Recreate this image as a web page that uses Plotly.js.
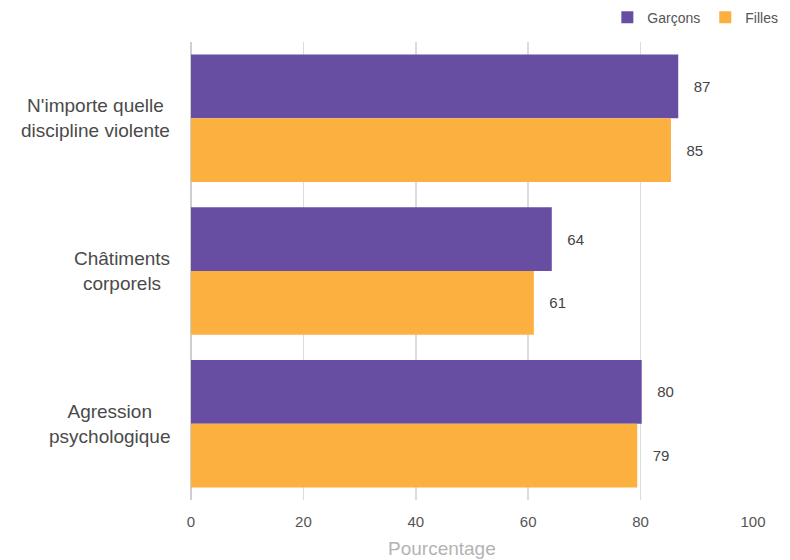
<!DOCTYPE html>
<html><head><meta charset="utf-8">
<script src="https://cdn.plot.ly/plotly-3.0.1.min.js"></script>
<style>body{margin:0}#c{width:790px;height:560px}</style>
</head><body><div id="c"></div>
<script>
const categories = ["N'importe quelle<br>discipline violente", "Châtiments<br>corporels", "Agression<br>psychologique"];
const garcons = [86.7, 64.2, 80.2];
const filles = [85.4, 61.0, 79.4];
const xTicks = [0, 20, 40, 60, 80, 100];
const xTitle = 'Pourcentage';

const FF = 'Liberation Sans, Arial, sans-serif';
const txtFont = {family: FF, size: 15, color: '#444'};
const traces = [
  {type: 'bar', orientation: 'h', name: 'Garçons', y: categories, x: garcons,
   marker: {color: '#684EA2'}, texttemplate: '   %{x:.0f}', textposition: 'outside',
   textfont: txtFont, cliponaxis: false, hoverinfo: 'x'},
  {type: 'bar', orientation: 'h', name: 'Filles', y: categories, x: filles,
   marker: {color: '#FBB040'}, texttemplate: '   %{x:.0f}', textposition: 'outside',
   textfont: txtFont, cliponaxis: false, hoverinfo: 'x'}
];
const annotations = categories.map(c => ({
  xref: 'paper', yref: 'y', x: 0, y: c, xanchor: 'right', yanchor: 'middle',
  xshift: -19, text: c, showarrow: false, align: 'center',
  font: {family: FF, size: 19, color: '#4a4a4a'}
}));
annotations.push({
  xref: 'paper', yref: 'paper', x: 0.447, y: 0, xanchor: 'center', yanchor: 'top',
  yshift: -36, text: xTitle, showarrow: false,
  font: {family: FF, size: 19, color: '#b3b3b3'}
});
const layout = {
  width: 790, height: 560,
  margin: {l: 191, r: 37, t: 42, b: 60, autoexpand: false},
  paper_bgcolor: '#fff', plot_bgcolor: '#fff',
  barmode: 'group', bargap: 0.165, bargroupgap: 0,
  showlegend: true,
  legend: {orientation: 'h', x: 1.054, xanchor: 'right', y: 1.088, yanchor: 'top',
           font: {family: FF, size: 14, color: '#555'},
           itemwidth: 30, tracegroupgap: 0},
  annotations: annotations,
  xaxis: {range: [0, 100], tickvals: xTicks, showgrid: true, gridcolor: '#dcdcdc', gridwidth: 1.5,
          zeroline: true, zerolinecolor: '#cfcfcf', zerolinewidth: 1.5, showline: false,
          tickfont: {family: FF, size: 15, color: '#555'},
          ticks: 'outside', ticklen: 8, tickcolor: '#fff', automargin: false},
  yaxis: {autorange: 'reversed', showgrid: false, ticks: '', showticklabels: false, automargin: false},
  font: {family: FF}
};
Plotly.newPlot('c', traces, layout, {displayModeBar: false, staticPlot: true});
</script></body></html>
